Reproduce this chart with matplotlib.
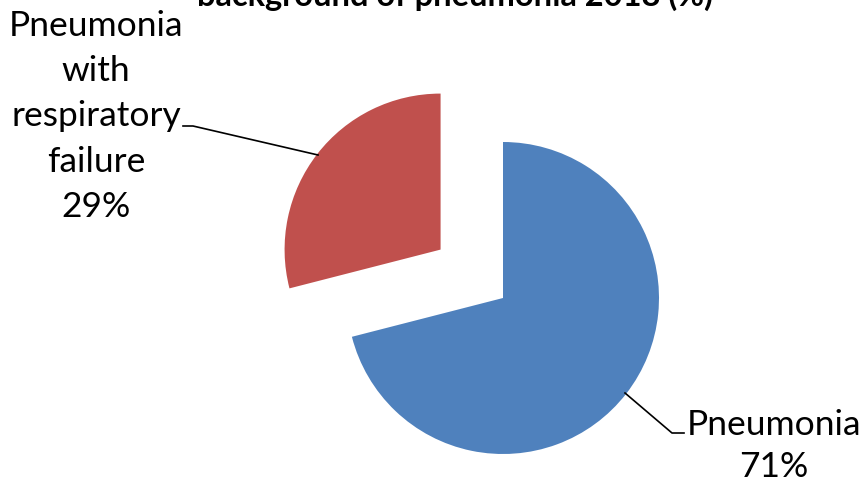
import matplotlib
matplotlib.use("Agg")
import matplotlib.pyplot as plt

# Share of patients by diagnosis (percent)
labels = ["Pneumonia", "Pneumonia\nwith\nrespiratory\nfailure"]
shares = [71, 29]
colors = ["#4F81BD", "#C0504D"]
title = "background of pneumonia 2018 (%)"

W, H = 865, 482
plt.rcParams["font.family"] = ["Lato", "DejaVu Sans"]

fig = plt.figure(figsize=(W / 100, H / 100), dpi=100)
ax = fig.add_axes([0, 0, 1, 1])
ax.axis("off")

# work in pixel units: y measured from the top edge
cx, cy, r = 503, H - 298, 156
ax.pie(shares, colors=colors, startangle=90, counterclock=False,
       explode=[0, 79], center=(cx, cy), radius=r,
       wedgeprops=dict(linewidth=0))
ax.set_xlim(0, W)
ax.set_ylim(0, H)
ax.set_aspect("equal")

fs = 25.5
# left label (exploded slice) with leader
left_text = f"{labels[1]}\n{shares[1]}%"
ax.text(96, H - 116.5, left_text, ha="center", va="center", fontsize=fs,
        linespacing=1.51)
ax.plot([183, 193, 318], [H - 126, H - 126, H - 155], color="black", lw=1.2)

# right label with leader
ax.text(774, H - 425, labels[0], ha="center", va="center", fontsize=fs)
ax.text(774, H - 467, f"{shares[0]}%", ha="center", va="center", fontsize=fs)
ax.plot([625, 672, 684], [H - 433 + 40, H - 433, H - 433], color="black", lw=1.2)

ax.text(455, H - 6, title, ha="center", va="baseline", fontsize=23.5,
        fontweight="bold")

fig.savefig("out.png", dpi=100)
